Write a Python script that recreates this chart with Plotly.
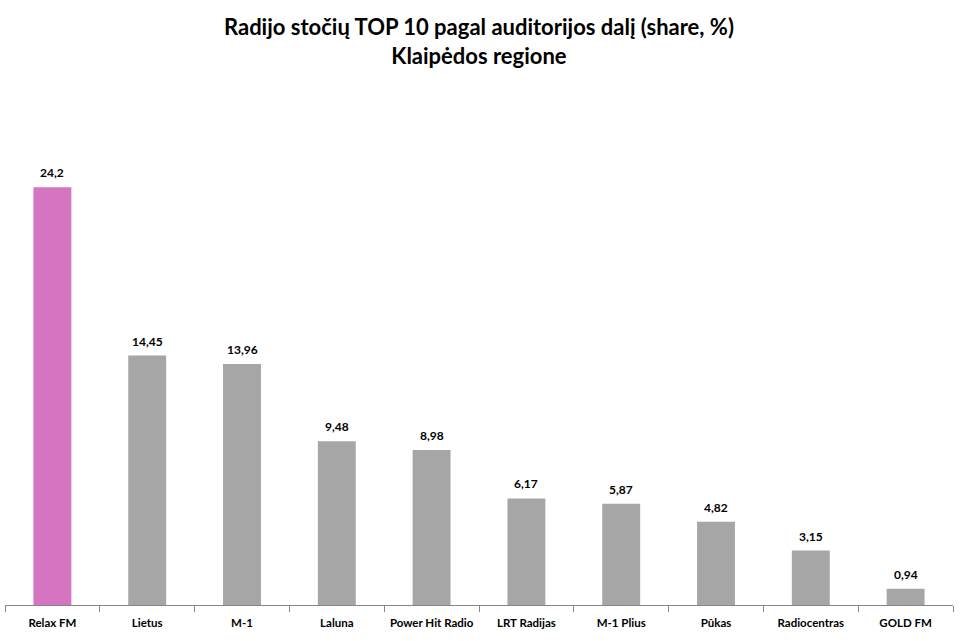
import plotly.graph_objects as go

stations = ["Relax FM", "Lietus", "M-1", "Laluna", "Power Hit Radio", "LRT Radijas",
            "M-1 Plius", "Pûkas", "Radiocentras", "GOLD FM"]
shares = [24.2, 14.45, 13.96, 9.48, 8.98, 6.17, 5.87, 4.82, 3.15, 0.94]
labels = ["24,2", "14,45", "13,96", "9,48", "8,98", "6,17", "5,87", "4,82", "3,15", "0,94"]
colors = ["#D575C1"] + ["#A6A6A6"] * 9
title_text = "Radijo stočių TOP 10 pagal auditorijos dalį (share, %)<br>Klaipėdos regione"

fig = go.Figure(go.Bar(
    x=stations, y=shares, marker_color=colors, marker_line_width=0,
))
for s, v, lab in zip(stations, shares, labels):
    fig.add_annotation(x=s, y=v, text=lab, showarrow=False, yanchor="bottom", yshift=5,
                       font=dict(family="Lato", size=12, color="black", weight="bold"))
fig.add_annotation(x=0.5, xref="paper", y=(605 - 11) / 518, yref="paper", yanchor="top",
                   text=title_text, showarrow=False, align="center",
                   font=dict(family="Lato", size=22, color="black", weight="bold"))
fig.update_layout(
    width=962, height=641,
    margin=dict(l=5, r=9, t=87, b=36),
    paper_bgcolor="white", plot_bgcolor="white",
    bargap=0.6, showlegend=False,
    font=dict(family="Lato", color="black"),
)
fig.update_xaxes(showline=True, linecolor="#868686", linewidth=1, ticks="outside",
                 tickson="boundaries", ticklen=6, tickcolor="#868686", ticklabelstandoff=7,
                 tickangle=0,
                 tickfont=dict(family="Lato", size=11.5, color="black", weight="bold"))
fig.update_yaxes(range=[0, 30], visible=False, showgrid=False)
fig.write_html("out.html")
